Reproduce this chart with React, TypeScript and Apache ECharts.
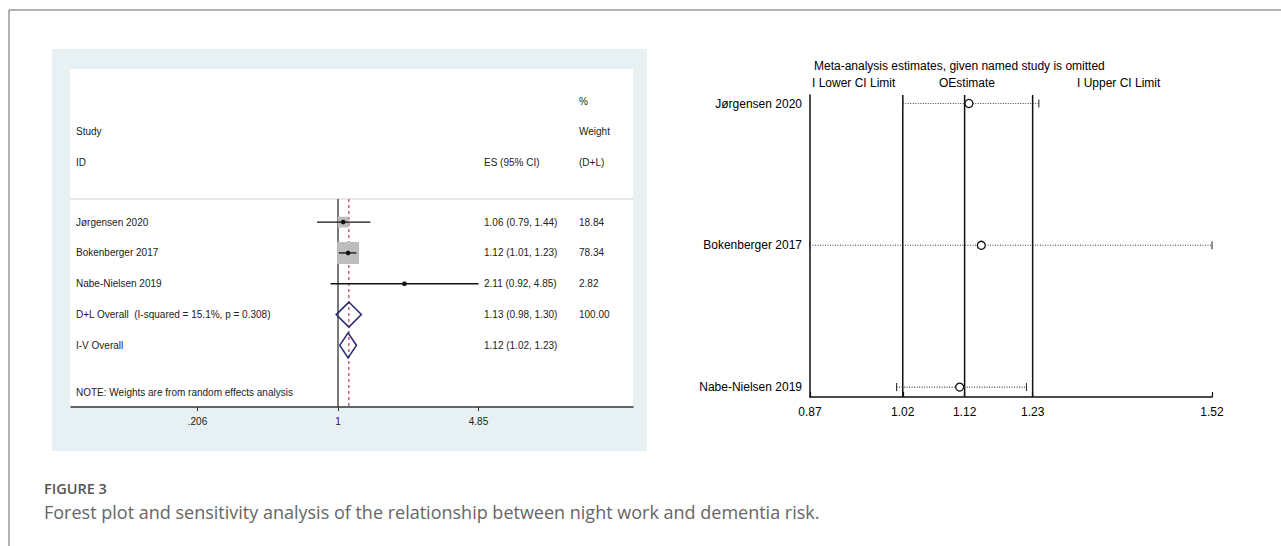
import React, { useEffect, useRef } from "react";
import * as echarts from "echarts";

// ---------- Forest plot data (left panel) ----------
const studies = ["Jørgensen 2020", "Bokenberger 2017", "Nabe-Nielsen 2019"];
const esValues = [1.06, 1.12, 2.11];
const esLower = [0.79, 1.01, 0.92];
const esUpper = [1.44, 1.23, 4.85];
const weights = [18.84, 78.34, 2.82];
const overallLabels = ["D+L Overall  (I-squared = 15.1%, p = 0.308)", "I-V Overall"];
const overallEs = [1.13, 1.12];
const overallLower = [0.98, 1.02];
const overallUpper = [1.3, 1.23];
const overallWeights = ["100.00", ""];
const forestTickValues = [0.206, 1, 4.85];
const forestTickLabels = [".206", "1", "4.85"];
const nullValue = 1;
const dlPooled = 1.13;

// ---------- Sensitivity analysis data (right panel) ----------
const sensStudies = ["Jørgensen 2020", "Bokenberger 2017", "Nabe-Nielsen 2019"];
const sensRows = [3, 2, 1];
const sensEstimate = [1.127, 1.147, 1.112];
const sensLower = [1.02, 0.87, 1.01];
const sensUpper = [1.24, 1.52, 1.22];
const sensTicks = [0.87, 1.02, 1.12, 1.23, 1.52];
const pooledLines = [1.02, 1.12, 1.23];

const FONT = '"Liberation Sans", Arial, sans-serif';
const LN = Math.log;

const fmt2 = (v: number) => v.toFixed(2);

export default function App() {
  const ref = useRef<HTMLDivElement>(null);

  useEffect(() => {
    if (!ref.current) return;
    const chart = echarts.init(ref.current, undefined, { renderer: "svg" });

    const forestYMin = 0.25;
    const forestYMax = 7;
    const sensYMin = 0.93;
    const sensYMax = 3.06;

    const rowLabels = [...studies, ...overallLabels];
    const rowCi = [
      ...studies.map((_, i) => `${fmt2(esValues[i])} (${fmt2(esLower[i])}, ${fmt2(esUpper[i])})`),
      ...overallLabels.map((_, i) => `${fmt2(overallEs[i])} (${fmt2(overallLower[i])}, ${fmt2(overallUpper[i])})`),
    ];
    const rowWeights = [...weights.map(fmt2), ...overallWeights];
    const maxW = Math.max(...weights);

    const txt = (x: number, y: number, text: string, font: string, fill = "#222", align = "left") => ({
      type: "text",
      x,
      y,
      z: 5,
      style: {
        text,
        font,
        fill,
        align,
        verticalAlign: "middle",
        textAlign: align,
        textVerticalAlign: "middle",
      },
    });
    const f10 = `10px ${FONT}`;
    const f12 = `12px ${FONT}`;

    const option: any = {
      animation: false,
      backgroundColor: "#ffffff",
      grid: [
        { left: 71, right: 1281 - 633, top: 199, bottom: 546 - 407 },
        { left: 810, right: 1281 - 1212, top: 95, bottom: 546 - 397 },
      ],
      xAxis: [
        {
          gridIndex: 0,
          type: "value",
          min: LN(0.0497),
          max: LN(27.56),
          axisLine: { show: true, lineStyle: { color: "#333", width: 1.5 } },
          axisTick: {
            show: true,
            length: 4,
            customValues: forestTickValues.map(LN),
            lineStyle: { color: "#333" },
          },
          axisLabel: {
            show: true,
            customValues: forestTickValues.map(LN),
            margin: 9,
            fontSize: 10,
            fontFamily: FONT,
            color: "#222",
            formatter: (v: number) => {
              let best = 0;
              forestTickValues.forEach((t, i) => {
                if (Math.abs(LN(t) - v) < Math.abs(LN(forestTickValues[best]) - v)) best = i;
              });
              return forestTickLabels[best];
            },
          },
          splitLine: { show: false },
        },
        {
          gridIndex: 1,
          type: "value",
          min: 0.87,
          max: 1.52,
          axisLine: { show: true, lineStyle: { color: "#111", width: 1.5 } },
          axisTick: {
            show: true,
            inside: true,
            length: 5,
            customValues: sensTicks,
            lineStyle: { color: "#111", width: 1.2 },
          },
          axisLabel: {
            show: true,
            customValues: sensTicks,
            margin: 9,
            fontSize: 12,
            fontFamily: FONT,
            color: "#000",
            formatter: (v: number) => v.toFixed(2),
          },
          splitLine: { show: false },
        },
      ],
      yAxis: [
        {
          gridIndex: 0,
          type: "value",
          inverse: true,
          min: forestYMin,
          max: forestYMax,
          show: false,
        },
        {
          gridIndex: 1,
          type: "value",
          min: sensYMin,
          max: sensYMax,
          axisLine: { show: true, lineStyle: { color: "#111", width: 1.5 } },
          axisTick: { show: false },
          splitLine: { show: false },
          axisLabel: {
            show: true,
            customValues: sensRows,
            margin: 8,
            fontSize: 12,
            fontFamily: FONT,
            color: "#000",
            formatter: (v: number) => {
              const i = sensRows.indexOf(Math.round(v));
              return i >= 0 ? sensStudies[i] : "";
            },
          },
        },
      ],
      graphic: [
        // outer figure border
        { type: "line", z: 1, shape: { x1: 9, y1: 10, x2: 1281, y2: 10 }, style: { stroke: "#666", lineWidth: 1 } },
        { type: "line", z: 1, shape: { x1: 9, y1: 10, x2: 9, y2: 546 }, style: { stroke: "#666", lineWidth: 1 } },
        // left panel background
        { type: "rect", z: -2, shape: { x: 52, y: 49, width: 595, height: 402 }, style: { fill: "#e7f0f2" } },
        { type: "rect", z: -1, shape: { x: 70, y: 69, width: 563, height: 338 }, style: { fill: "#ffffff" } },
        { type: "line", z: 1, shape: { x1: 70, y1: 199, x2: 633, y2: 199 }, style: { stroke: "#d0d0d0", lineWidth: 1.2 } },
        // forest headers
        txt(579, 101, "%", f10),
        txt(76, 131, "Study", f10),
        txt(579, 131, "Weight", f10),
        txt(76, 162, "ID", f10),
        txt(484, 162, "ES (95% CI)", f10),
        txt(579, 162, "(D+L)", f10),
        txt(76, 392, "NOTE: Weights are from random effects analysis", f10),
        // right panel title and legend
        txt(814, 66, "Meta-analysis estimates, given named study is omitted", f12, "#000"),
        txt(812, 83, "I Lower CI Limit", f12, "#000"),
        txt(939, 83, "OEstimate", f12, "#000"),
        txt(1077, 83, "I Upper CI Limit", f12, "#000"),
        // caption
        txt(44, 488, "FIGURE 3", `600 14.5px "Open Sans", sans-serif`, "#555"),
        txt(
          44,
          512,
          "Forest plot and sensitivity analysis of the relationship between night work and dementia risk.",
          `400 18px "Open Sans", sans-serif`,
          "#666"
        ),
      ],
      series: [
        // null line and pooled dashed line (forest)
        {
          type: "custom",
          xAxisIndex: 0,
          yAxisIndex: 0,
          z: 2,
          silent: true,
          data: [[LN(nullValue), 0], [LN(dlPooled), 1]],
          renderItem: (params: any, api: any) => {
            const v = api.value(0);
            const p1 = api.coord([v, forestYMin]);
            const p2 = api.coord([v, forestYMax]);
            const dashed = api.value(1) === 1;
            return {
              type: "line",
              shape: { x1: p1[0], y1: p1[1], x2: p2[0], y2: p2[1] },
              style: dashed
                ? { stroke: "#b0405c", lineWidth: 1.2, lineDash: [3, 3] }
                : { stroke: "#333", lineWidth: 1.3 },
            };
          },
        },
        // study boxes and CIs
        {
          type: "custom",
          xAxisIndex: 0,
          yAxisIndex: 0,
          z: 3,
          silent: true,
          data: studies.map((_, i) => [LN(esValues[i]), LN(esLower[i]), LN(esUpper[i]), i + 1, weights[i]]),
          renderItem: (params: any, api: any) => {
            const row = api.value(3);
            const c = api.coord([api.value(0), row]);
            const lx = api.coord([api.value(1), row])[0];
            const hx = api.coord([api.value(2), row])[0];
            const side = 22 * Math.sqrt(api.value(4) / maxW);
            return {
              type: "group",
              children: [
                {
                  type: "rect",
                  shape: { x: c[0] - side / 2, y: c[1] - side / 2, width: side, height: side },
                  style: { fill: "#bdbdbd" },
                },
                { type: "line", shape: { x1: lx, y1: c[1], x2: hx, y2: c[1] }, style: { stroke: "#111", lineWidth: 1.3 } },
                { type: "circle", shape: { cx: c[0], cy: c[1], r: 2.3 }, style: { fill: "#111" } },
              ],
            };
          },
        },
        // overall diamonds
        {
          type: "custom",
          xAxisIndex: 0,
          yAxisIndex: 0,
          z: 3,
          silent: true,
          data: overallLabels.map((_, i) => [LN(overallEs[i]), LN(overallLower[i]), LN(overallUpper[i]), studies.length + i + 1]),
          renderItem: (params: any, api: any) => {
            const row = api.value(3);
            const c = api.coord([api.value(0), row]);
            const lx = api.coord([api.value(1), row])[0];
            const hx = api.coord([api.value(2), row])[0];
            const h = 12.5;
            return {
              type: "polygon",
              shape: { points: [[lx, c[1]], [c[0], c[1] - h], [hx, c[1]], [c[0], c[1] + h]] },
              style: { fill: "none", stroke: "#2b2b78", lineWidth: 1.6 },
            };
          },
        },
        // table texts
        {
          type: "custom",
          xAxisIndex: 0,
          yAxisIndex: 0,
          z: 4,
          silent: true,
          data: rowLabels.map((_, i) => [0, i + 1]),
          renderItem: (params: any, api: any) => {
            const i = params.dataIndex;
            const y = api.coord([0, api.value(1)])[1];
            const mk = (x: number, text: string) => ({
              type: "text",
              x,
              y,
              style: { text, font: f10, fill: "#222", align: "left", verticalAlign: "middle", textAlign: "left", textVerticalAlign: "middle" },
            });
            return {
              type: "group",
              children: [mk(76, rowLabels[i]), mk(484, rowCi[i]), mk(579, rowWeights[i])],
            };
          },
        },
        // pooled vertical lines (sensitivity)
        {
          type: "custom",
          xAxisIndex: 1,
          yAxisIndex: 1,
          z: 2,
          silent: true,
          data: pooledLines.map((v) => [v]),
          renderItem: (params: any, api: any) => {
            const v = api.value(0);
            const p1 = api.coord([v, sensYMin]);
            const p2 = api.coord([v, sensYMax]);
            return {
              type: "line",
              shape: { x1: p1[0], y1: p1[1], x2: p2[0], y2: p2[1] },
              style: { stroke: "#111", lineWidth: 1.5 },
            };
          },
        },
        // sensitivity estimates
        {
          type: "custom",
          xAxisIndex: 1,
          yAxisIndex: 1,
          z: 3,
          silent: true,
          data: sensStudies.map((_, i) => [sensLower[i], sensEstimate[i], sensUpper[i], sensRows[i]]),
          renderItem: (params: any, api: any) => {
            const row = api.value(3);
            const lo = api.coord([api.value(0), row]);
            const est = api.coord([api.value(1), row]);
            const hi = api.coord([api.value(2), row]);
            const y = est[1];
            return {
              type: "group",
              children: [
                {
                  type: "line",
                  shape: { x1: lo[0], y1: y, x2: hi[0], y2: y },
                  style: { stroke: "#444", lineWidth: 1.1, lineDash: [1, 1.5] },
                },
                { type: "line", shape: { x1: lo[0], y1: y - 4, x2: lo[0], y2: y + 4 }, style: { stroke: "#333", lineWidth: 1.1 } },
                { type: "line", shape: { x1: hi[0], y1: y - 4, x2: hi[0], y2: y + 4 }, style: { stroke: "#333", lineWidth: 1.1 } },
                { type: "circle", shape: { cx: est[0], cy: y, r: 4 }, style: { fill: "#fff", stroke: "#111", lineWidth: 1.3 } },
              ],
            };
          },
        },
      ],
    };

    chart.setOption(option);
    return () => chart.dispose();
  }, []);

  return (
    <div
      ref={ref}
      style={{ position: "absolute", left: 0, top: 0, width: 1281, height: 546, background: "#fff" }}
    />
  );
}
